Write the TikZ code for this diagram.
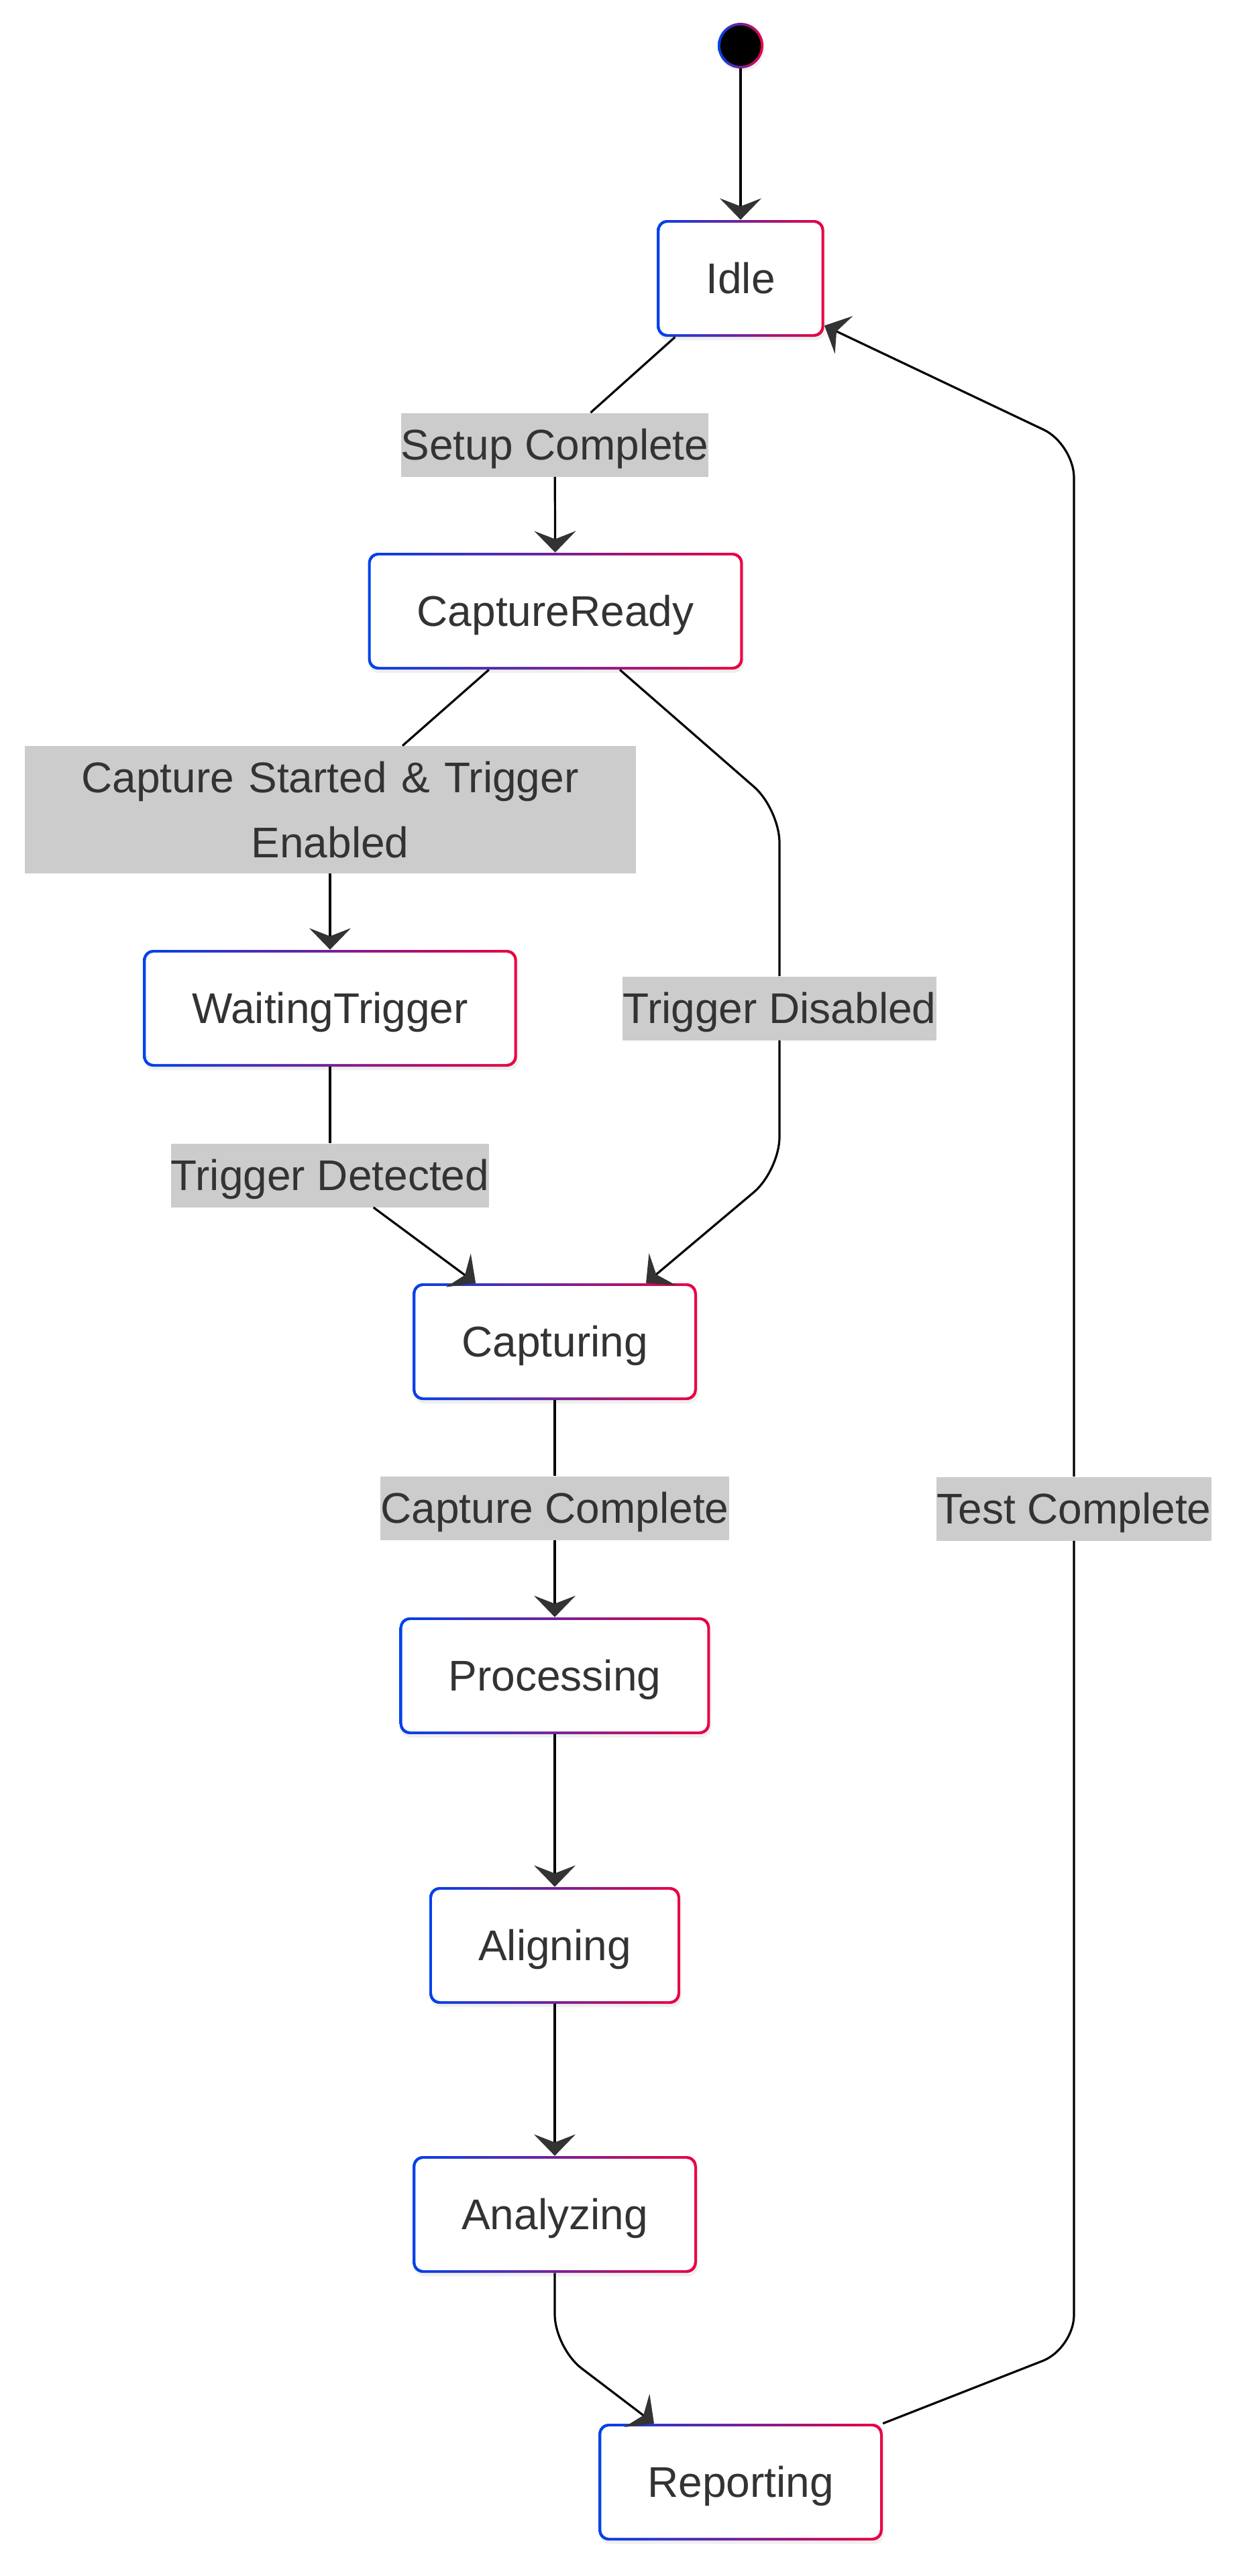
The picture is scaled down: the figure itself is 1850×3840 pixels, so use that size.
\documentclass[tikz,border=0pt]{standalone}
\usepackage{fontspec}
\setmainfont{Liberation Sans}
\usepackage{tikz}
\usetikzlibrary{arrows.meta, positioning, calc, shadows}
\definecolor{stateblue}{RGB}{0, 66, 235}
\definecolor{statered}{RGB}{235, 0, 66}
\definecolor{labelgray}{RGB}{204, 204, 204}
\definecolor{textdark}{RGB}{51, 51, 51}

\begin{document}
\begin{tikzpicture}[x=0.5pt, y=-0.5pt,
    state/.style={rounded corners=7.5pt, left color=stateblue, right color=statered,
        minimum height=87pt, inner xsep=36.5pt, inner ysep=0pt,
        text height=29pt, text depth=6.5pt, text=textdark,
        font=\fontsize{32}{48}\selectfont,
        drop shadow={opacity=0.12, shadow xshift=1pt, shadow yshift=-2.5pt},
        path picture={\fill[white, rounded corners=6pt]
            ([shift={(2pt,2pt)}]path picture bounding box.south west) rectangle
            ([shift={(-2pt,-2pt)}]path picture bounding box.north east);}},
    startdot/.style={circle, minimum size=34pt, inner sep=0pt,
        left color=stateblue, right color=statered,
        drop shadow={opacity=0.12, shadow xshift=1pt, shadow yshift=-2pt},
        path picture={\fill[black] (path picture bounding box.center) circle (15pt);}},
    tlabel/.style={fill=labelgray, text=textdark, inner sep=0pt,
        minimum height=47.5pt, text height=29pt, text depth=6.5pt,
        font=\fontsize{32}{48}\selectfont},
    wire/.style={line width=1.6pt, black},
    flow/.style={wire, -{Stealth[length=16pt, width=31pt, inset=6pt, color=textdark]}}]

    \useasboundingbox (0,0) rectangle (1850,3840);
    \fill[white] (0,0) rectangle (1850,3840);

    % states
    \node[startdot] (start) at (1104, 68) {};
    \node[state] (idle) at (1104, 415) {Idle};
    \node[state] (ready) at (828, 911) {CaptureReady};
    \node[state] (waiting) at (492, 1503) {WaitingTrigger};
    \node[state] (capturing) at (827, 2000) {Capturing};
    \node[state] (processing) at (827, 2498) {Processing};
    \node[state] (aligning) at (827, 2900) {Aligning};
    \node[state] (analyzing) at (827, 3301) {Analyzing};
    \node[state] (reporting) at (1104, 3700) {Reporting};

    % transition labels
    \node[tlabel] (lblsetup) at (827, 663) {Setup Complete};
    \node[tlabel, text height={}, text depth={}, minimum height=95pt,
        text width=455.5pt, align=center, font=\fontsize{32}{48.5}\selectfont]
        (lblcapstart) at (492, 1207) {Capture Started \& Trigger\\Enabled};
    \node[tlabel] (lbltrigdis) at (1162, 1503) {Trigger Disabled};
    \node[tlabel] (lbltrigdet) at (492, 1752) {Trigger Detected};
    \node[tlabel] (lblcapdone) at (827, 2248) {Capture Complete};
    \node[tlabel] (lbltestdone) at (1601, 2249) {Test Complete};

    % transitions
    \draw[flow] (start) -- (idle);
    \draw[wire] (idle) -- (lblsetup);
    \draw[flow] (lblsetup) -- (ready);
    \draw[wire] (ready) -- (lblcapstart);
    \draw[flow] (lblcapstart) -- (waiting);
    \draw[wire, rounded corners=25pt] ($(ready.south)+(96,0)$) -- (1162,1206) -- (lbltrigdis);
    \draw[flow, rounded corners=25pt] (lbltrigdis) -- (1162,1745) -- ($(capturing.north)+(136,0)$);
    \draw[wire] (waiting) -- (lbltrigdet);
    \draw[flow] (lbltrigdet) -- (capturing);
    \draw[wire] (capturing) -- (lblcapdone);
    \draw[flow] (lblcapdone) -- (processing);
    \draw[flow] (processing) -- (aligning);
    \draw[flow] (aligning) -- (analyzing);
    \draw[flow, rounded corners=25pt] (analyzing) -- (827,3500) -- ($(reporting.north)+(-129,0)$);
    \draw[wire, rounded corners=25pt] (reporting.north east) -- (1601,3501) -- (lbltestdone);
    \draw[flow, rounded corners=25pt] (lbltestdone) -- (1601,662) -- ($(idle.south east)+(0,-17)$);
\end{tikzpicture}
\end{document}
